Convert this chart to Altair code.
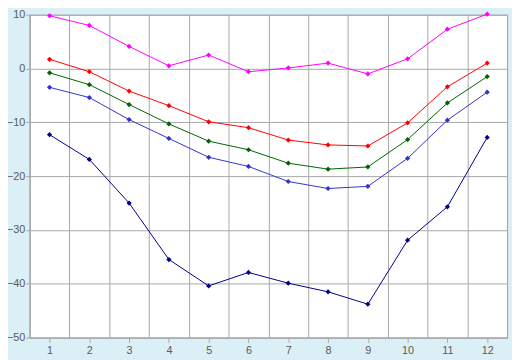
import altair as alt
import pandas as pd

months = list(range(1, 13))
series_names = ["s1", "s2", "s3", "s4", "s5"]
s1 = [9.8, 8.0, 4.1, 0.5, 2.5, -0.6, 0.1, 1.0, -1.0, 1.8, 7.3, 10.1]
s2 = [1.7, -0.6, -4.2, -6.9, -9.9, -11.0, -13.3, -14.2, -14.4, -10.1, -3.4, 1.0]
s3 = [-0.8, -3.0, -6.7, -10.3, -13.5, -15.1, -17.6, -18.7, -18.3, -13.2, -6.4, -1.5]
s4 = [-3.5, -5.4, -9.5, -13.0, -16.5, -18.2, -21.0, -22.3, -21.9, -16.7, -9.6, -4.4]
s5 = [-12.3, -16.9, -25.0, -35.5, -40.4, -37.9, -39.9, -41.5, -43.8, -31.9, -25.7, -12.8]
colors = ["#FF00FF", "#FF0000", "#006400", "#3333CC", "#000088"]
y_ticks = [-50, -40, -30, -20, -10, 0, 10]
grid_x = [m - 0.5 for m in months] + [12.5]

rows = []
for name, vals in zip(series_names, [s1, s2, s3, s4, s5]):
    for m, v in zip(months, vals):
        rows.append({"month": m, "value": v, "series": name})
df = pd.DataFrame(rows)

xscale = alt.Scale(domain=[0.5, 12.5], nice=False, zero=False)
yscale = alt.Scale(domain=[-50, 10], nice=False, zero=False)
cscale = alt.Scale(domain=series_names, range=colors)

lab = dict(labelFont="Liberation Sans", labelFontSize=11, labelColor="#5A5A5A",
           tickColor="#A8A8A8", domainColor="#A8A8A8", gridColor="#A8A8A8")

base = alt.Chart(df)

lines = base.mark_line(strokeWidth=1).encode(
    x=alt.X("month:Q", scale=xscale, title=None,
            axis=alt.Axis(values=months, grid=False, tickSize=5, labelPadding=2,
                          format="d", **lab)),
    y=alt.Y("value:Q", scale=yscale, title=None,
            axis=alt.Axis(values=y_ticks, grid=True, tickSize=4, labelPadding=1, **lab)),
    color=alt.Color("series:N", scale=cscale, legend=None),
    detail="series:N",
)

gridlayer = base.mark_point(opacity=0).encode(
    x=alt.X("month:Q", scale=xscale, title=None,
            axis=alt.Axis(values=grid_x, grid=True, labels=False, ticks=False,
                          domain=False, gridColor="#A8A8A8", orient="top")),
    y=alt.Y("value:Q", scale=yscale),
)

points = base.mark_point(shape="diamond", filled=True, size=28, opacity=1).encode(
    x=alt.X("month:Q", scale=xscale, axis=None),
    y=alt.Y("value:Q", scale=yscale),
    color=alt.Color("series:N", scale=cscale, legend=None),
)

chart = alt.layer(lines, gridlayer, points).resolve_axis(x="independent").properties(
    width=485, height=328,
    autosize=alt.AutoSizeParams(type="none"),
    padding={"left": 22, "top": 4, "right": 5, "bottom": 20},
    background="#DAEFF6",
).configure_view(
    fill="white", stroke="#A8A8A8", strokeWidth=1
)

chart.save("out.html", embed_options={"renderer": "svg", "actions": False})
